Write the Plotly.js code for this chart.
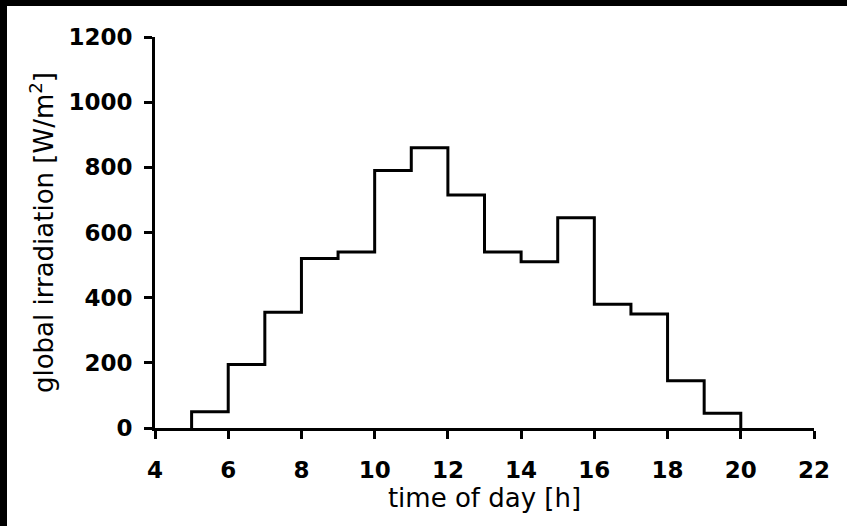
<!DOCTYPE html>
<html>
<head>
<meta charset="utf-8">
<script src="https://cdn.plot.ly/plotly-3.0.1.min.js"></script>
<style>
  html, body { margin: 0; padding: 0; background: #fff; width: 847px; height: 526px; overflow: hidden; }
  #topbar { position: absolute; left: 0; top: 0; width: 847px; height: 6px; background: #000; }
  #leftbar { position: absolute; left: 0; top: 0; width: 7px; height: 526px; background: #000; }
  #chart { position: absolute; left: 7px; top: 6px; width: 840px; height: 520px; background: #fff; }
</style>
</head>
<body>
<div id="topbar"></div>
<div id="leftbar"></div>
<div id="chart"></div>
<script>
// hour bins (start of each hour) and global irradiation values [W/m2]
const hourStart = [5, 6, 7, 8, 9, 10, 11, 12, 13, 14, 15, 16, 17, 18, 19];
const hourEnd = 20;
const irradiation = [50, 195, 355, 520, 540, 790, 860, 715, 540, 510, 645, 380, 350, 145, 45];
const xTicks = [4, 6, 8, 10, 12, 14, 16, 18, 20, 22];
const yTicks = [0, 200, 400, 600, 800, 1000, 1200];

const xs = [hourStart[0]].concat(hourStart, [hourEnd]);
const ys = [0].concat(irradiation, [0]);

const tickFont = { family: 'DejaVu Sans', size: 23, color: '#000', weight: 'bold' };
const titleFont = { family: 'DejaVu Sans', size: 26, color: '#000' };

const trace = {
  type: 'scatter',
  mode: 'lines',
  x: xs,
  y: ys,
  line: { shape: 'hv', color: '#000', width: 3 },
  hoverinfo: 'skip',
  cliponaxis: false
};

const layout = {
  width: 840,
  height: 520,
  margin: { l: 148, r: 33, t: 31, b: 98 },
  paper_bgcolor: '#fff',
  plot_bgcolor: '#fff',
  showlegend: false,
  xaxis: {
    range: [4, 22],
    tickvals: xTicks,
    ticktext: xTicks.map(String),
    showgrid: false,
    zeroline: false,
    showline: true,
    linecolor: '#000',
    linewidth: 3,
    ticks: 'outside',
    ticklen: 8,
    tickwidth: 3,
    tickcolor: '#000',
    ticklabelstandoff: 11,
    tickfont: tickFont,
    title: { text: 'time of day [h]', font: titleFont, standoff: 4 }
  },
  yaxis: {
    range: [0, 1200],
    tickvals: yTicks,
    ticktext: yTicks.map(String),
    showgrid: false,
    zeroline: false,
    showline: true,
    linecolor: '#000',
    linewidth: 3,
    ticks: 'outside',
    ticklen: 8,
    tickwidth: 3,
    tickcolor: '#000',
    ticklabelstandoff: 7,
    tickfont: tickFont,
    title: { text: 'global irradiation [W/m<sup>2</sup>]', font: titleFont, standoff: 8 }
  }
};

Plotly.newPlot('chart', [trace], layout, { displayModeBar: false, staticPlot: true });
</script>
</body>
</html>
